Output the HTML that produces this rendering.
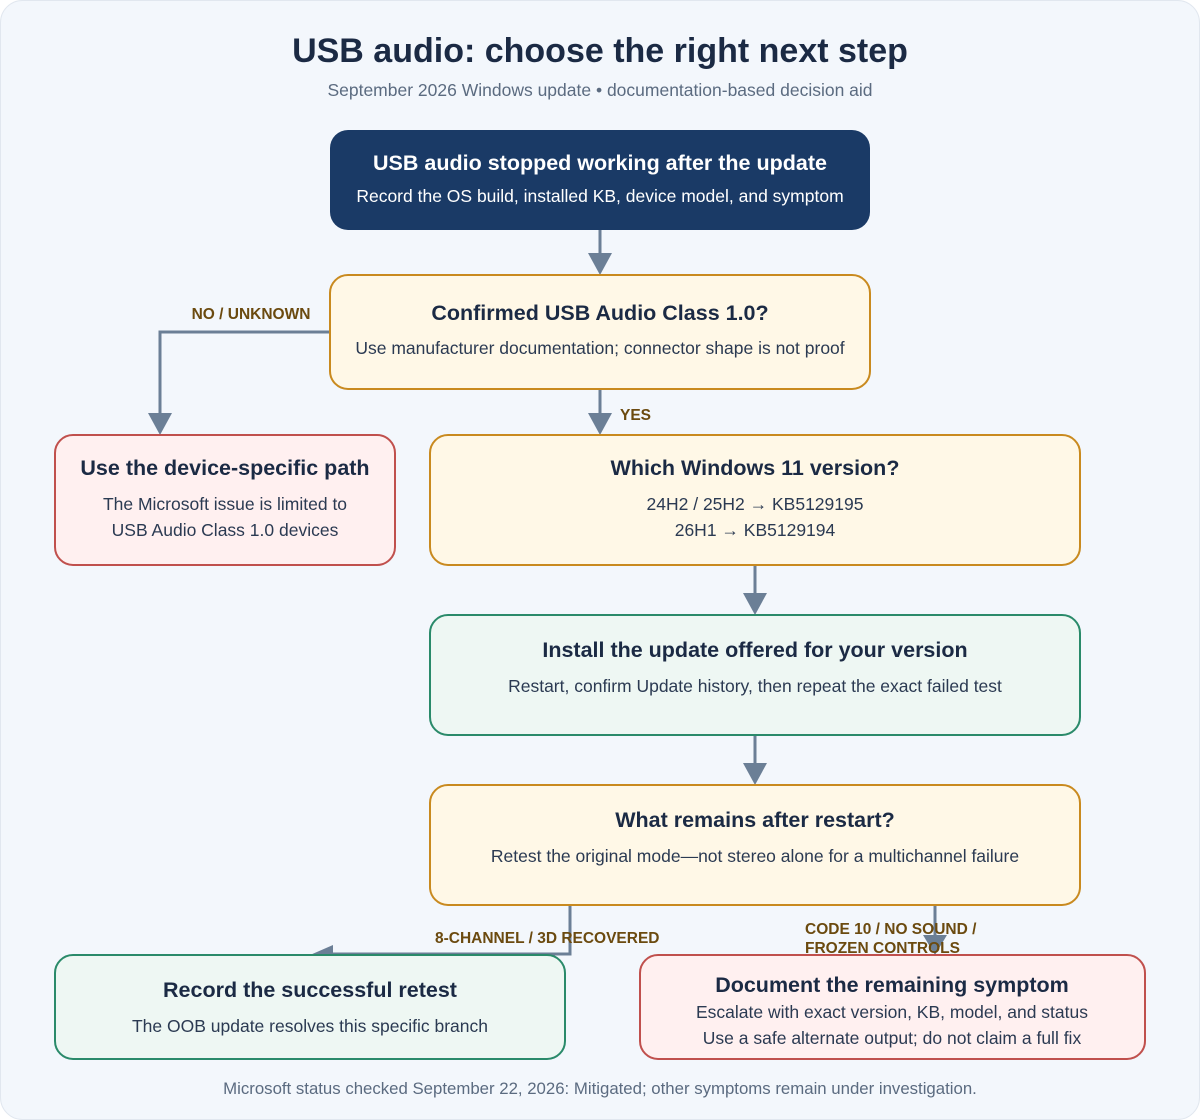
<!DOCTYPE html>
<html><head><meta charset="utf-8"><style>
html,body{margin:0;padding:0;background:#fff}
svg{display:block}
text{font-family:"Liberation Sans",Arial,sans-serif}
</style></head><body>
<svg width="1200" height="1120" viewBox="0 0 1200 1120" xmlns="http://www.w3.org/2000/svg">
<rect x="0.5" y="0.5" width="1199" height="1119" rx="22" fill="#f3f7fc" stroke="#e1e7ef"/>
<text x="600" y="62" text-anchor="middle" font-size="34" font-weight="bold" fill="#1b2a44">USB audio: choose the right next step</text>
<text x="600" y="96" text-anchor="middle" font-size="17.5" fill="#5b6b80">September 2026 Windows update • documentation-based decision aid</text>

<g stroke="#6b7f96" stroke-width="3" fill="none">
<line x1="600" y1="230" x2="600" y2="256"/>
<polyline points="330,332 160,332 160,416"/>
<line x1="600" y1="389" x2="600" y2="416"/>
<line x1="755" y1="565" x2="755" y2="596"/>
<line x1="755" y1="735" x2="755" y2="766"/>
<polyline points="570,905 570,954 330,954"/>
<line x1="935" y1="905" x2="935" y2="940"/>
</g>
<g fill="#6b7f96">
<polygon points="588,253 612,253 600,275"/>
<polygon points="148,413 172,413 160,435"/>
<polygon points="588,413 612,413 600,435"/>
<polygon points="743,593 767,593 755,615"/>
<polygon points="743,763 767,763 755,785"/>
<polygon points="310,955 333,945 333,955"/>
<polygon points="923,935 947,935 935,955"/>
</g>

<rect x="330" y="130" width="540" height="100" rx="18" fill="#1a3a66"/>
<text x="600" y="170" text-anchor="middle" font-size="21.5" font-weight="bold" fill="#fff">USB audio stopped working after the update</text>
<text x="600" y="202" text-anchor="middle" font-size="17.5" fill="#fff">Record the OS build, installed KB, device model, and symptom</text>

<rect x="330" y="275" width="540" height="114" rx="18" fill="#fff8e7" stroke="#c98a1f" stroke-width="2"/>
<text x="600" y="320" text-anchor="middle" font-size="21.5" font-weight="bold" fill="#1b2a44">Confirmed USB Audio Class 1.0?</text>
<text x="600" y="354" text-anchor="middle" font-size="17.5" fill="#2b3a52">Use manufacturer documentation; connector shape is not proof</text>

<text x="251" y="319" text-anchor="middle" font-size="15.5" font-weight="bold" fill="#6b4a0f">NO / UNKNOWN</text>
<text x="620" y="420" font-size="15.5" font-weight="bold" fill="#6b4a0f">YES</text>

<rect x="55" y="435" width="340" height="130" rx="18" fill="#fff0f0" stroke="#c0504d" stroke-width="2"/>
<text x="225" y="475" text-anchor="middle" font-size="21.5" font-weight="bold" fill="#1b2a44">Use the device-specific path</text>
<text x="225" y="510" text-anchor="middle" font-size="17.5" fill="#2b3a52">The Microsoft issue is limited to</text>
<text x="225" y="536" text-anchor="middle" font-size="17.5" fill="#2b3a52">USB Audio Class 1.0 devices</text>

<rect x="430" y="435" width="650" height="130" rx="18" fill="#fff8e7" stroke="#c98a1f" stroke-width="2"/>
<text x="755" y="475" text-anchor="middle" font-size="21.5" font-weight="bold" fill="#1b2a44">Which Windows 11 version?</text>
<text x="755" y="510" text-anchor="middle" font-size="17.5" fill="#2b3a52">24H2 / 25H2 → KB5129195</text>
<text x="755" y="536" text-anchor="middle" font-size="17.5" fill="#2b3a52">26H1 → KB5129194</text>

<rect x="430" y="615" width="650" height="120" rx="18" fill="#eef7f3" stroke="#2a8a6a" stroke-width="2"/>
<text x="755" y="657" text-anchor="middle" font-size="21.5" font-weight="bold" fill="#1b2a44">Install the update offered for your version</text>
<text x="755" y="692" text-anchor="middle" font-size="17.5" fill="#2b3a52">Restart, confirm Update history, then repeat the exact failed test</text>

<rect x="430" y="785" width="650" height="120" rx="18" fill="#fff8e7" stroke="#c98a1f" stroke-width="2"/>
<text x="755" y="827" text-anchor="middle" font-size="21.5" font-weight="bold" fill="#1b2a44">What remains after restart?</text>
<text x="755" y="862" text-anchor="middle" font-size="17.5" fill="#2b3a52">Retest the original mode—not stereo alone for a multichannel failure</text>

<text x="435" y="943" font-size="15.5" font-weight="bold" fill="#6b4a0f">8-CHANNEL / 3D RECOVERED</text>
<text x="805" y="934" font-size="15.5" font-weight="bold" fill="#6b4a0f">CODE 10 / NO SOUND /</text>
<text x="805" y="953" font-size="15.5" font-weight="bold" fill="#6b4a0f">FROZEN CONTROLS</text>

<rect x="55" y="955" width="510" height="104" rx="18" fill="#eef7f3" stroke="#2a8a6a" stroke-width="2"/>
<text x="310" y="997" text-anchor="middle" font-size="21.5" font-weight="bold" fill="#1b2a44">Record the successful retest</text>
<text x="310" y="1032" text-anchor="middle" font-size="17.5" fill="#2b3a52">The OOB update resolves this specific branch</text>

<rect x="640" y="955" width="505" height="104" rx="18" fill="#fff0f0" stroke="#c0504d" stroke-width="2"/>
<text x="892" y="992" text-anchor="middle" font-size="21.5" font-weight="bold" fill="#1b2a44">Document the remaining symptom</text>
<text x="892" y="1018" text-anchor="middle" font-size="17.5" fill="#2b3a52">Escalate with exact version, KB, model, and status</text>
<text x="892" y="1044" text-anchor="middle" font-size="17.5" fill="#2b3a52">Use a safe alternate output; do not claim a full fix</text>

<text x="600" y="1094" text-anchor="middle" font-size="16.8" fill="#5b6b80">Microsoft status checked September 22, 2026: Mitigated; other symptoms remain under investigation.</text>
</svg>
</body></html>
